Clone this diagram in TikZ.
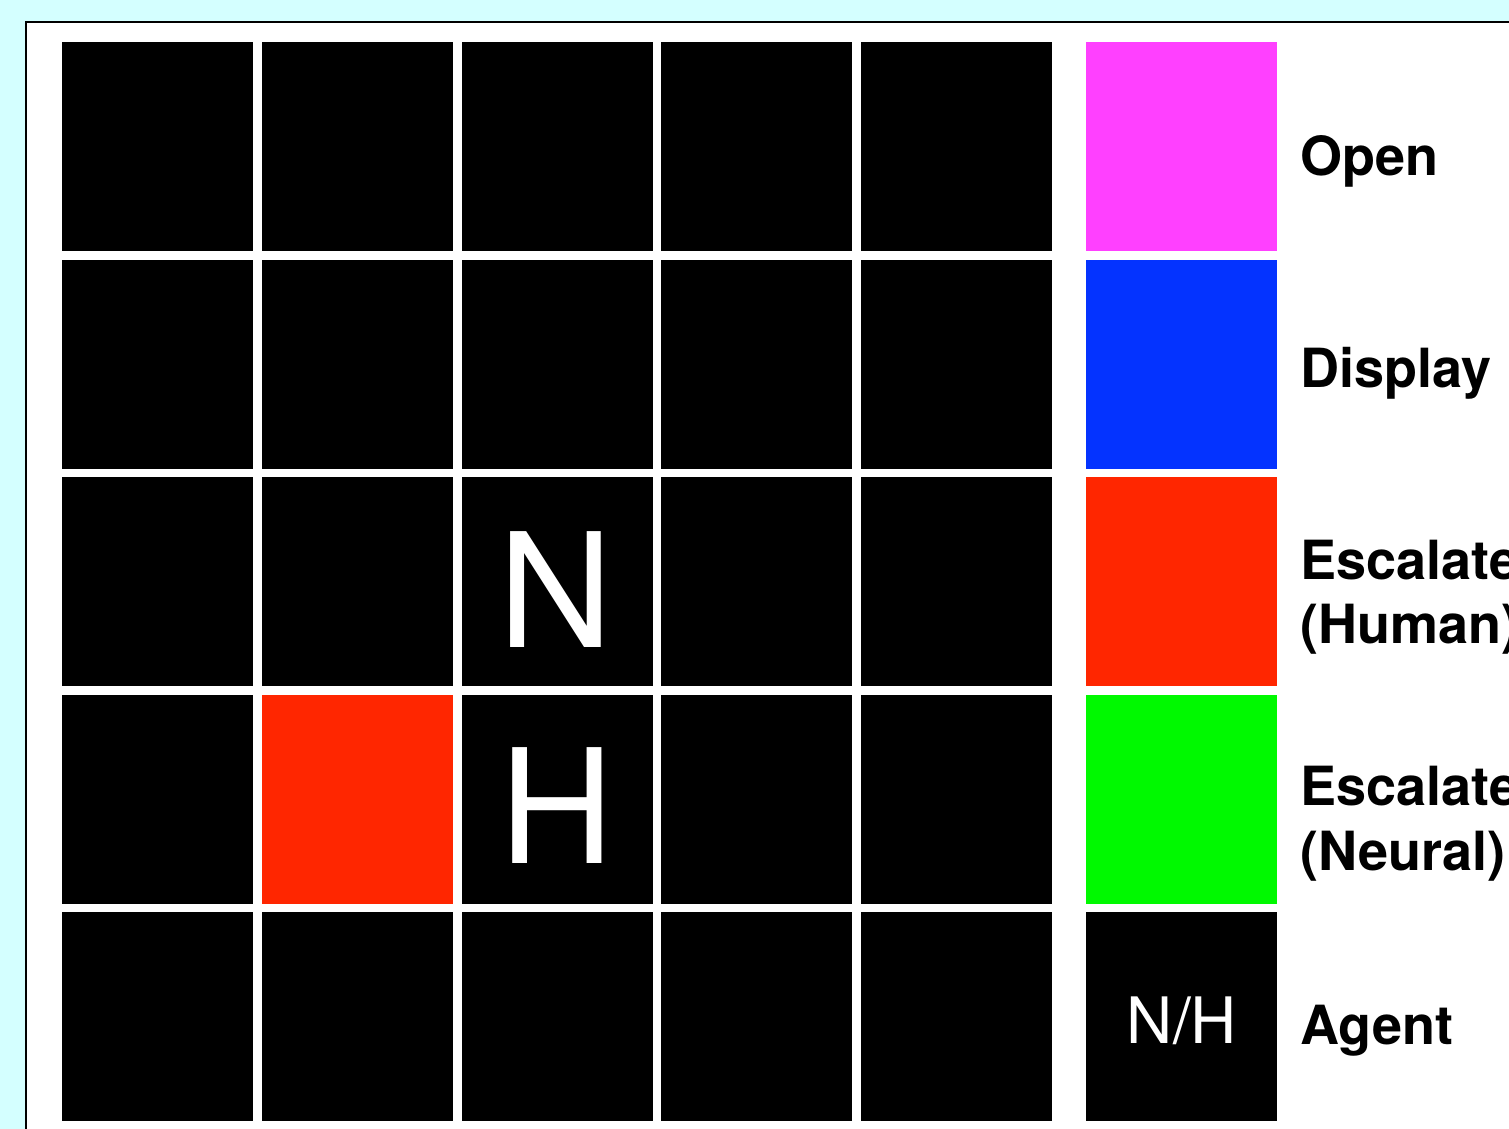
\documentclass[tikz,border=0pt]{standalone}
\usepackage{fontspec}
\setmainfont{TeX Gyre Heros}
\definecolor{bgcyan}{RGB}{212,255,255}
\definecolor{cmag}{RGB}{255,64,255}
\definecolor{cblue}{RGB}{4,51,255}
\definecolor{cred}{RGB}{255,38,0}
\definecolor{cgreen}{RGB}{0,249,0}
\begin{document}
\begin{tikzpicture}[x=0.5pt,y=-0.5pt,
  cell/.style={rectangle,inner sep=0pt,outer sep=0pt,minimum width=95.5pt,minimum height=104.5pt,draw=none,fill=black},
  bigletter/.style={text=white,inner sep=0pt,anchor=base,font=\fontsize{79.5pt}{80pt}\selectfont},
  agentletter/.style={text=white,inner sep=0pt,anchor=base,font=\fontsize{32pt}{34pt}\selectfont},
  legendtext/.style={inner sep=0pt,anchor=base west,font=\fontsize{27pt}{32pt}\selectfont\bfseries}]
\useasboundingbox (0,0) rectangle (1509,1129);
\clip (0,0) rectangle (1509,1129);
\fill[bgcyan] (0,0) rectangle (1509,1129);
\fill[white] (26,22) rectangle (1530,1150);
\draw[black,line width=1.25pt] (26,1150) -- (26,22) -- (1530,22);
% grid
\foreach \r [count=\ri from 0] in {1,...,5}{
  \foreach \c [count=\ci from 0] in {1,...,5}{
    \node[cell] (c-\r-\c) at ({157.5+199.75*\ci},{146.5+217.5*\ri}) {};
  }
}
\node[cell,fill=cred] (c-4-2b) at (c-4-2) {};
% agent letters
\node[bigletter] (letN) at (556,647) {N};
\node[bigletter] (letH) at (557,863) {H};
% legend
\node[cell,fill=cmag]   (l-1) at (1181.5,146.5) {};
\node[cell,fill=cblue]  (l-2) at (1181.5,364) {};
\node[cell,fill=cred]   (l-3) at (1181.5,581.5) {};
\node[cell,fill=cgreen] (l-4) at (1181.5,799) {};
\node[cell,fill=black]  (l-5) at (1181.5,1016.5) {};
\node[agentletter] (nh) at (1182,1043) {N/H};
\node[legendtext] (t-open) at (1300,176) {Open};
\node[legendtext] (t-disp) at (1300,387) {Display};
\node[legendtext] (t-esc1) at (1300,579) {Escalate};
\node[legendtext] (t-hum) at (1300,643) {(Human)};
\node[legendtext] (t-esc2) at (1300,805) {Escalate};
\node[legendtext] (t-neu) at (1300,870) {(Neural)};
\node[legendtext] (t-agent) at (1300,1044) {Agent};
\end{tikzpicture}
\end{document}
